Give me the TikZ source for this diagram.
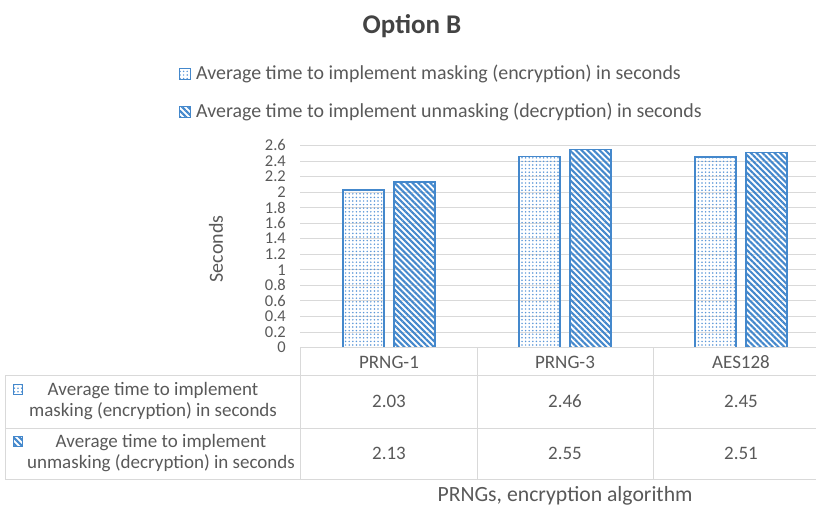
\documentclass[tikz,border=0pt]{standalone}
\usepackage{fontspec}
\setmainfont{Carlito}
\usetikzlibrary{patterns.meta}

\definecolor{barblue}{RGB}{68,136,204}
\definecolor{dotblue}{RGB}{90,150,215}
\definecolor{txtgray}{RGB}{89,89,89}
\definecolor{gridgray}{RGB}{217,217,217}

\tikzset{
  maskbar/.style={draw=barblue,line width=1.6pt,
    pattern={Dots[distance=3.6pt,radius=0.85pt]},pattern color=dotblue},
  unmaskbar/.style={draw=barblue,line width=1.6pt,
    pattern={Lines[angle=-45,distance=4.2pt,line width=2.1pt]},pattern color=barblue},
  gridline/.style={draw=gridgray,line width=0.9pt},
  tick/.style={anchor=east,text=txtgray,font=\fontsize{16.5}{17}\selectfont,inner sep=0pt},
  cell/.style={text=txtgray,font=\fontsize{19}{21}\selectfont,inner sep=0pt},
  legtext/.style={anchor=west,text=txtgray,font=\fontsize{19.9}{21}\selectfont,inner sep=0pt}
}

\begin{document}
\begin{tikzpicture}[x=1pt,y=-1pt]
\useasboundingbox (0,0) rectangle (816,507);
% ---------- title ----------
\node[text=txtgray!75!black,font=\bfseries\fontsize{27}{29}\selectfont] (title) at (412,26) {Option B};
% ---------- legend ----------
\draw[maskbar,line width=1pt] (179,68.5) rectangle (190,79.5);
\node[legtext] (leg1) at (196,74) {Average time to implement masking (encryption) in seconds};
\draw[unmaskbar,line width=1pt] (179,106.5) rectangle (190,117.5);
\node[legtext] (leg2) at (196,112) {Average time to implement unmasking (decryption) in seconds};
% ---------- grid and ticks ----------
\foreach \v/\lab in {0.2/0.2,0.4/0.4,0.6/0.6,0.8/0.8,1.0/1,1.2/1.2,1.4/1.4,1.6/1.6,1.8/1.8,2.0/2,2.2/2.2,2.4/2.4,2.6/2.6}
  \draw[gridline] (300,{347.5-77.7*\v}) -- (816,{347.5-77.7*\v});
\foreach \v/\lab in {0/0,0.2/0.2,0.4/0.4,0.6/0.6,0.8/0.8,1.0/1,1.2/1.2,1.4/1.4,1.6/1.6,1.8/1.8,2.0/2,2.2/2.2,2.4/2.4,2.6/2.6}
  \node[tick] at (286,{347.5-77.7*\v}) {\lab};
\node[rotate=90,text=txtgray,font=\fontsize{20}{22}\selectfont] (ytitle) at (216,249) {Seconds};
% ---------- bars ----------
\foreach \c/\a/\b in {389/2.03/2.13,565/2.46/2.55,741/2.45/2.51}{
  \draw[maskbar] (\c-46,347.5) rectangle (\c-5,{347.5-77.7*\a});
  \draw[unmaskbar] (\c+5,347.5) rectangle (\c+46,{347.5-77.7*\b});
}
% ---------- data table ----------
\draw[gridline] (300,347.5) -- (816,347.5);
\foreach \y in {375,428,479}
  \draw[gridline] (5,\y) -- (816,\y);
\draw[gridline] (5,375) -- (5,479);
\foreach \x in {300,477,653}
  \draw[gridline] (\x,347.5) -- (\x,479);
\node[cell] (cat1) at (389,362) {PRNG-1};
\node[cell] (cat2) at (565,362) {PRNG-3};
\node[cell] (cat3) at (741,362) {AES128};
\draw[maskbar,line width=1pt] (13,384.5) rectangle (22,394.5);
\node[cell,align=center] (row1) at (153,401) {Average time to implement\\masking (encryption) in seconds};
\draw[unmaskbar,line width=1pt] (13,436.5) rectangle (22,446.5);
\node[cell,align=center] (row2) at (161,453) {Average time to implement\\unmasking (decryption) in seconds};
\node[cell] (m1) at (389,401) {2.03};
\node[cell] (m2) at (565,401) {2.46};
\node[cell] (m3) at (741,401) {2.45};
\node[cell] (u1) at (389,453) {2.13};
\node[cell] (u2) at (565,453) {2.55};
\node[cell] (u3) at (741,453) {2.51};
% ---------- axis title ----------
\node[text=txtgray,font=\fontsize{21.7}{23}\selectfont] (xtitle) at (565,496) {PRNGs, encryption algorithm};
\end{tikzpicture}
\end{document}
